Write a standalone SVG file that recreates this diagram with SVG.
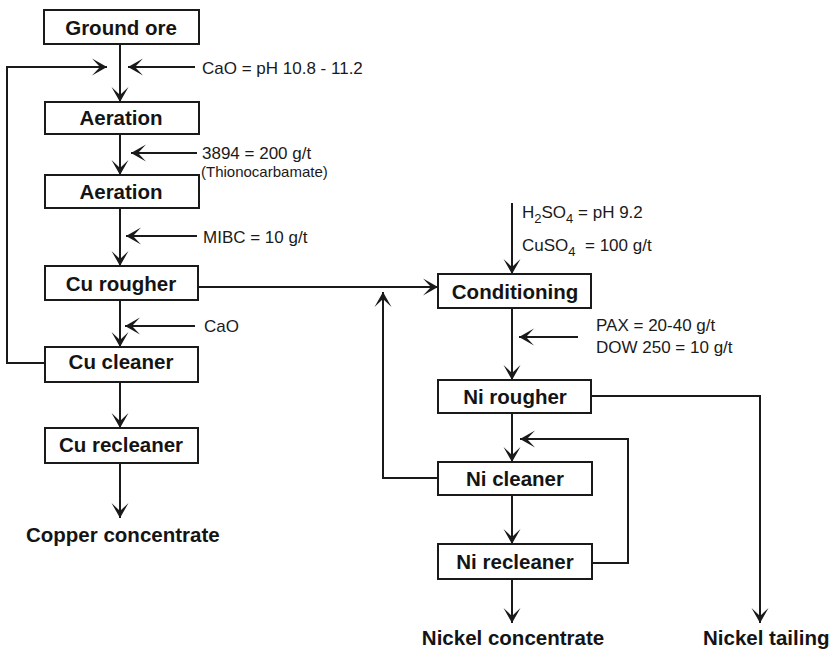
<svg xmlns="http://www.w3.org/2000/svg" width="831" height="651" viewBox="0 0 831 651">
<style>
.box{fill:#fff;stroke:#1a1a1a;stroke-width:2}
.lbl{font-family:"Liberation Sans",Arial,sans-serif;font-weight:bold;font-size:20.5px;fill:#141414;text-anchor:middle}
.out{font-family:"Liberation Sans",Arial,sans-serif;font-weight:bold;font-size:20.5px;fill:#141414}
.note{font-family:"Liberation Sans",Arial,sans-serif;font-size:17px;fill:#1a1a1a}
.small{font-family:"Liberation Sans",Arial,sans-serif;font-size:15px;fill:#1a1a1a}
.ln{fill:none;stroke:#1a1a1a;stroke-width:2}
.ar{fill:none;stroke:#1a1a1a;stroke-width:2;marker-end:url(#ah)}
</style>
<defs>
<marker id="ah" markerUnits="userSpaceOnUse" markerWidth="20" markerHeight="20" viewBox="-16 -10 18 20" refX="0" refY="0" orient="auto">
<path d="M0,0 L-15,-8.5 L-7,0 L-15,8.5 Z" fill="#1a1a1a"/>
</marker>
</defs>
<rect width="831" height="651" fill="#fff"/>
<g id="connectors">
<line class="ar" x1="120" y1="44" x2="120" y2="102"/>
<polyline class="ar" points="45,363 7,363 7,67 107,67"/>
<line class="ar" x1="195" y1="67" x2="128" y2="67"/>
<line class="ar" x1="120" y1="134" x2="120" y2="175"/>
<line class="ar" x1="197" y1="153" x2="131" y2="153"/>
<line class="ar" x1="120" y1="208" x2="120" y2="266"/>
<line class="ar" x1="197" y1="236" x2="126" y2="236"/>
<line class="ar" x1="120" y1="300" x2="120" y2="347"/>
<line class="ar" x1="195" y1="326" x2="125" y2="326"/>
<line class="ar" x1="120" y1="382" x2="120" y2="428"/>
<line class="ar" x1="120" y1="463" x2="120" y2="518"/>
<line class="ar" x1="198" y1="287" x2="438" y2="287"/>
<line class="ar" x1="512" y1="203" x2="512" y2="274"/>
<line class="ar" x1="512" y1="308" x2="512" y2="380"/>
<line class="ar" x1="578" y1="337" x2="519" y2="337"/>
<line class="ar" x1="512" y1="413" x2="512" y2="462"/>
<polyline class="ar" points="438,478 383,478 383,292"/>
<polyline class="ar" points="592,563 628,563 628,439 520,439"/>
<line class="ar" x1="512" y1="495" x2="512" y2="544"/>
<line class="ar" x1="512" y1="579" x2="512" y2="623"/>
<polyline class="ar" points="592,396 760,396 760,623"/>
</g>
<g id="ground-ore"><rect class="box" x="44" y="10" width="155" height="34"/><text class="lbl" x="121" y="34.5">Ground ore</text></g>
<g id="aeration-1"><rect class="box" x="45" y="102" width="154" height="32"/><text class="lbl" x="121" y="125">Aeration</text></g>
<g id="aeration-2"><rect class="box" x="45" y="175" width="154" height="33"/><text class="lbl" x="121" y="199">Aeration</text></g>
<g id="cu-rougher"><rect class="box" x="45" y="266" width="153" height="34"/><text class="lbl" x="121" y="290.5">Cu rougher</text></g>
<g id="cu-cleaner"><rect class="box" x="45" y="347" width="153" height="35"/><text class="lbl" x="121" y="369">Cu cleaner</text></g>
<g id="cu-recleaner"><rect class="box" x="45" y="428" width="153" height="35"/><text class="lbl" x="121" y="452">Cu recleaner</text></g>
<g id="copper-concentrate"><text class="out" x="26" y="542">Copper concentrate</text></g>
<g id="conditioning"><rect class="box" x="438" y="274" width="153" height="34"/><text class="lbl" x="515" y="298.5">Conditioning</text></g>
<g id="ni-rougher"><rect class="box" x="438" y="380" width="153" height="33"/><text class="lbl" x="515" y="404">Ni rougher</text></g>
<g id="ni-cleaner"><rect class="box" x="438" y="462" width="154" height="33"/><text class="lbl" x="515" y="486">Ni cleaner</text></g>
<g id="ni-recleaner"><rect class="box" x="438" y="544" width="154" height="35"/><text class="lbl" x="515" y="569">Ni recleaner</text></g>
<g id="nickel-concentrate"><text class="out" x="513" y="645" text-anchor="middle">Nickel concentrate</text></g>
<g id="nickel-tailing"><text class="out" x="703" y="645">Nickel tailing</text></g>
<g id="reagents">
<text class="note" x="202" y="74">CaO = pH 10.8 - 11.2</text>
<text class="note" x="202" y="159">3894 = 200 g/t</text>
<text class="small" x="201" y="177">(Thionocarbamate)</text>
<text class="note" x="203" y="243">MIBC = 10 g/t</text>
<text class="note" x="204" y="332">CaO</text>
<text class="note" x="522" y="218">H<tspan font-size="13" dy="5">2</tspan><tspan dy="-5">SO</tspan><tspan font-size="13" dy="5">4</tspan><tspan dy="-5"> = pH 9.2</tspan></text>
<text class="note" x="522" y="251">CuSO<tspan font-size="13" dy="5">4</tspan><tspan dy="-5" xml:space="preserve">  = 100 g/t</tspan></text>
<text class="note" x="596" y="331">PAX = 20-40 g/t</text>
<text class="note" x="596" y="353">DOW 250 = 10 g/t</text>
</g>
</svg>
